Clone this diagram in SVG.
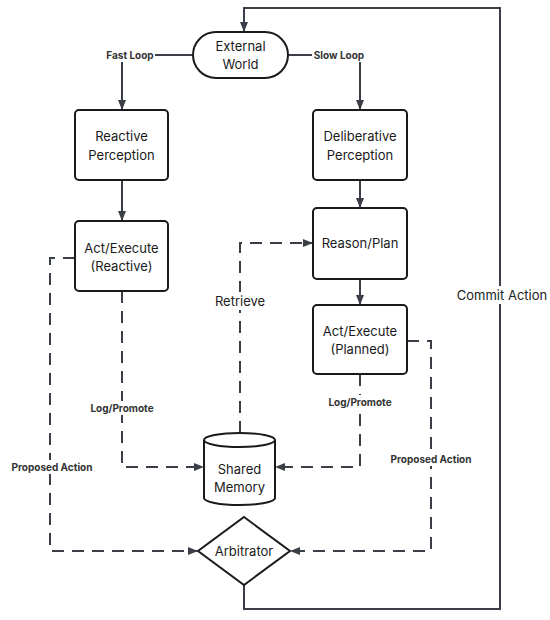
<svg xmlns="http://www.w3.org/2000/svg" width="550" height="620" viewBox="0 0 550 620">
<style>
.n{fill:#fff;stroke:#1a1a1a;stroke-width:2}
.t{font-family:Inter,"Liberation Sans",sans-serif;font-size:13px;fill:#1a1a1a;text-anchor:middle}
.c{fill:none;stroke:#3a3f47;stroke-width:2}
.d{stroke-dasharray:12 8}
.lb{font-family:Inter,"Liberation Sans",sans-serif;font-size:10px;font-weight:bold;fill:#333;text-anchor:middle}
.lr{font-family:Inter,"Liberation Sans",sans-serif;font-size:13px;fill:#222;text-anchor:middle}
.bg{fill:#fff}
</style>
<defs>
<marker id="a" markerWidth="10" markerHeight="10" refX="9" refY="5" orient="auto" markerUnits="userSpaceOnUse">
<path d="M0,1 L10,5 L0,9 Z" fill="#3a3f47"/>
</marker>
</defs>
<g id="connectors">
<path class="c" d="M192,55 H122 V109" marker-end="url(#a)"/>
<path class="c" d="M288,55 H360 V109" marker-end="url(#a)"/>
<path class="c" d="M122,180 V220" marker-end="url(#a)"/>
<path class="c" d="M360,180 V207" marker-end="url(#a)"/>
<path class="c" d="M360,279 V304" marker-end="url(#a)"/>
<path class="c d" d="M240,433 V243 H312" marker-end="url(#a)"/>
<path class="c d" d="M122,291 V467 H203" marker-end="url(#a)"/>
<path class="c d" d="M360,374 V467 H276" marker-end="url(#a)"/>
<path class="c d" d="M75,258 H50 V551 H197" marker-end="url(#a)"/>
<path class="c d" d="M407,341 H431 V551 H291" marker-end="url(#a)"/>
<path class="c" d="M244,585 V609 H500 V8 H244 V31" marker-end="url(#a)"/>
<rect class="bg" x="105" y="48" width="50" height="14"/>
<text class="lb" x="130" y="59">Fast Loop</text>
<rect class="bg" x="312" y="48" width="54" height="14"/>
<text class="lb" x="339" y="59">Slow Loop</text>
<rect class="bg" x="212" y="292" width="56" height="18"/>
<text class="lr" x="240" y="306">Retrieve</text>
<rect class="bg" x="458" y="286" width="88" height="18"/>
<text class="lr" x="502" y="300">Commit Action</text>
<rect class="bg" x="89" y="401" width="66" height="14"/>
<text class="lb" x="122" y="412">Log/Promote</text>
<rect class="bg" x="327" y="395" width="66" height="14"/>
<text class="lb" x="360" y="406">Log/Promote</text>
<rect class="bg" x="9" y="460" width="86" height="14"/>
<text class="lb" x="52" y="471">Proposed Action</text>
<rect class="bg" x="387" y="452" width="88" height="14"/>
<text class="lb" x="431" y="463">Proposed Action</text>
</g>
<g id="external-world">
<rect class="n" x="193" y="32" width="95" height="46" rx="23"/>
<text class="t" x="240.5" y="51">External</text>
<text class="t" x="240.5" y="69">World</text>
</g>
<g id="reactive-perception">
<rect class="n" x="75" y="110" width="93" height="70" rx="4"/>
<text class="t" x="121.5" y="141">Reactive</text>
<text class="t" x="121.5" y="160">Perception</text>
</g>
<g id="deliberative-perception">
<rect class="n" x="313" y="110" width="94" height="70" rx="4"/>
<text class="t" x="360" y="141">Deliberative</text>
<text class="t" x="360" y="160">Perception</text>
</g>
<g id="act-reactive">
<rect class="n" x="75" y="221" width="93" height="70" rx="4"/>
<text class="t" x="121.5" y="253">Act/Execute</text>
<text class="t" x="121.5" y="271">(Reactive)</text>
</g>
<g id="reason-plan">
<rect class="n" x="313" y="208" width="94" height="71" rx="4"/>
<text class="t" x="360" y="248">Reason/Plan</text>
</g>
<g id="act-planned">
<rect class="n" x="313" y="305" width="94" height="69" rx="4"/>
<text class="t" x="360" y="336">Act/Execute</text>
<text class="t" x="360" y="354">(Planned)</text>
</g>
<g id="shared-memory">
<path class="n" d="M204,440 A35.5,7 0 0 1 275,440 L275,498 A35.5,7 0 0 1 204,498 Z"/>
<path class="n" d="M204,440 A35.5,7 0 0 0 275,440" fill="none"/>
<text class="t" x="239.5" y="474">Shared</text>
<text class="t" x="239.5" y="492">Memory</text>
</g>
<g id="arbitrator">
<polygon class="n" points="244,517 290,551 244,585 198,551"/>
<text class="t" x="244" y="556">Arbitrator</text>
</g>
</svg>
